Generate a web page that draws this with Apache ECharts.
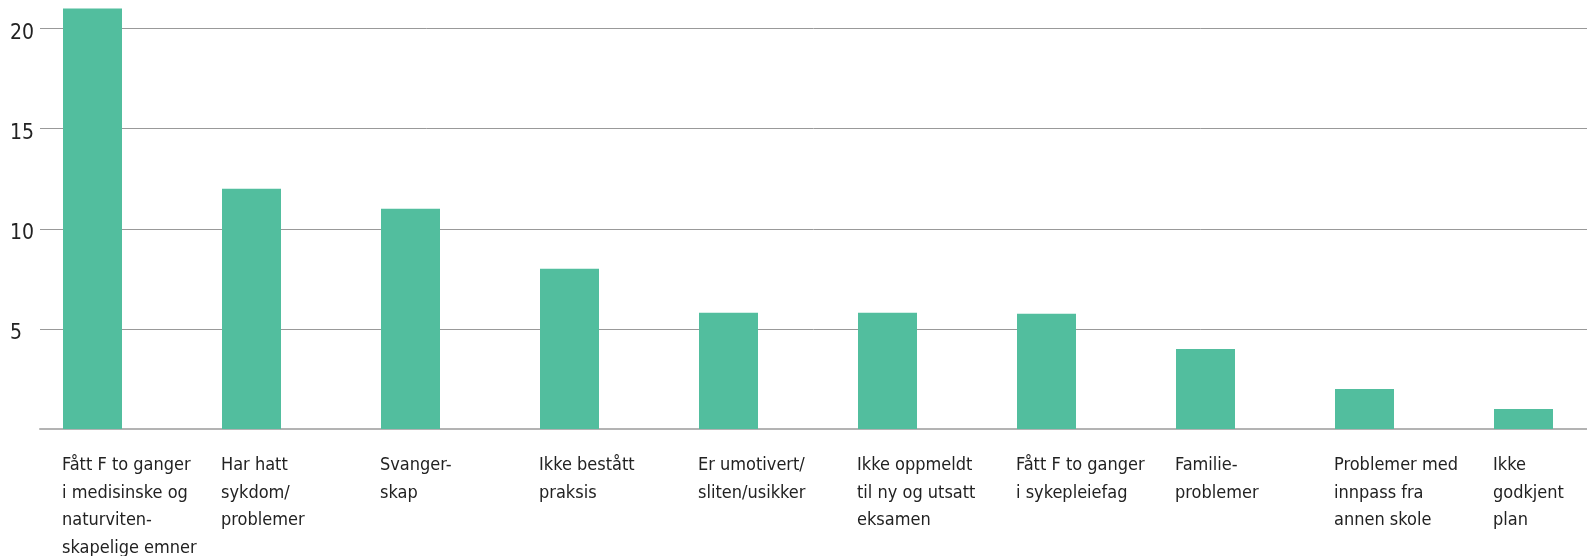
<!DOCTYPE html>
<html>
<head>
<meta charset="utf-8">
<style>
html,body{margin:0;padding:0;background:#fff;}
#c{width:1587px;height:556px;}
</style>
<script src="https://cdn.jsdelivr.net/npm/echarts@6/dist/echarts.min.js"></script>
</head>
<body>
<div id="c"></div>
<script>
const categories = [
  "Fått F to ganger\ni medisinske og\nnaturviten-\nskapelige emner",
  "Har hatt\nsykdom/\nproblemer",
  "Svanger-\nskap",
  "Ikke bestått\npraksis",
  "Er umotivert/\nsliten/usikker",
  "Ikke oppmeldt\ntil ny og utsatt\neksamen",
  "Fått F to ganger\ni sykepleiefag",
  "Familie-\nproblemer",
  "Problemer med\ninnpass fra\nannen skole",
  "Ikke\ngodkjent\nplan"
];
const values = [21, 12, 11, 8, 5.8, 5.8, 5.75, 4, 2, 1];
const yTicks = [0, 5, 10, 15, 20];

const FONT = "'Liberation Sans Narrow', 'DejaVu Sans Condensed', 'Roboto', sans-serif";
const chart = echarts.init(document.getElementById('c'), null, {renderer: 'canvas'});
const bottom = 127;
chart.setOption({
  animation: false,
  backgroundColor: '#ffffff',
  grid: [
    {left: 92.5, width: 1431, top: 8.5, bottom: bottom, outerBoundsMode: 'none'},
    {left: 40, right: 0, top: 28.5, bottom: bottom, outerBoundsMode: 'none'},
    {left: 62, width: 1431, top: 8.5, bottom: bottom, outerBoundsMode: 'none'},
    {left: 40, right: 0, top: 33.5, bottom: bottom - 5, outerBoundsMode: 'none'}
  ],
  xAxis: [
    {type: 'category', gridIndex: 0, data: categories, boundaryGap: false, axisLine: {show: false}, axisTick: {show: false}, axisLabel: {show: false}, splitLine: {show: false}},
    {type: 'value', gridIndex: 1, min: 0, max: 1, axisLabel: {show: false}, axisTick: {show: false}, splitLine: {show: false},
      axisLine: {show: true, lineStyle: {color: '#b3b3b3', width: 2}}},
    {type: 'category', gridIndex: 2, data: categories, boundaryGap: false, axisLine: {show: false}, axisTick: {show: false}, splitLine: {show: false},
      axisLabel: {interval: 0, align: 'left', verticalAlign: 'top', margin: 23, fontFamily: FONT, fontSize: 18, lineHeight: 27.4, color: '#222222'}},
    {type: 'value', gridIndex: 3, min: 0, max: 1, show: false}
  ],
  yAxis: [
    {type: 'value', gridIndex: 0, min: 0, max: 21, show: false},
    {type: 'value', gridIndex: 1, min: yTicks[0], max: yTicks[yTicks.length - 1], interval: 5,
      axisLine: {show: false}, axisTick: {show: false}, axisLabel: {show: false},
      splitLine: {show: true, showMinLine: false, lineStyle: {color: '#999999', width: 1}}},
    {type: 'value', gridIndex: 2, min: 0, max: 1, show: false},
    {type: 'value', gridIndex: 3, min: yTicks[0], max: yTicks[yTicks.length - 1], interval: 5,
      axisLine: {show: false}, axisTick: {show: false}, splitLine: {show: false},
      axisLabel: {align: 'left', margin: 30, fontFamily: FONT, fontSize: 21, color: '#222222',
        formatter: v => (yTicks.indexOf(v) > 0 ? String(v) : '')}}
  ],
  series: [
    {type: 'bar', xAxisIndex: 0, yAxisIndex: 0, data: values, barWidth: 59, clip: false,
      itemStyle: {color: '#52be9e'}, z: 5}
  ]
});
</script>
</body>
</html>
